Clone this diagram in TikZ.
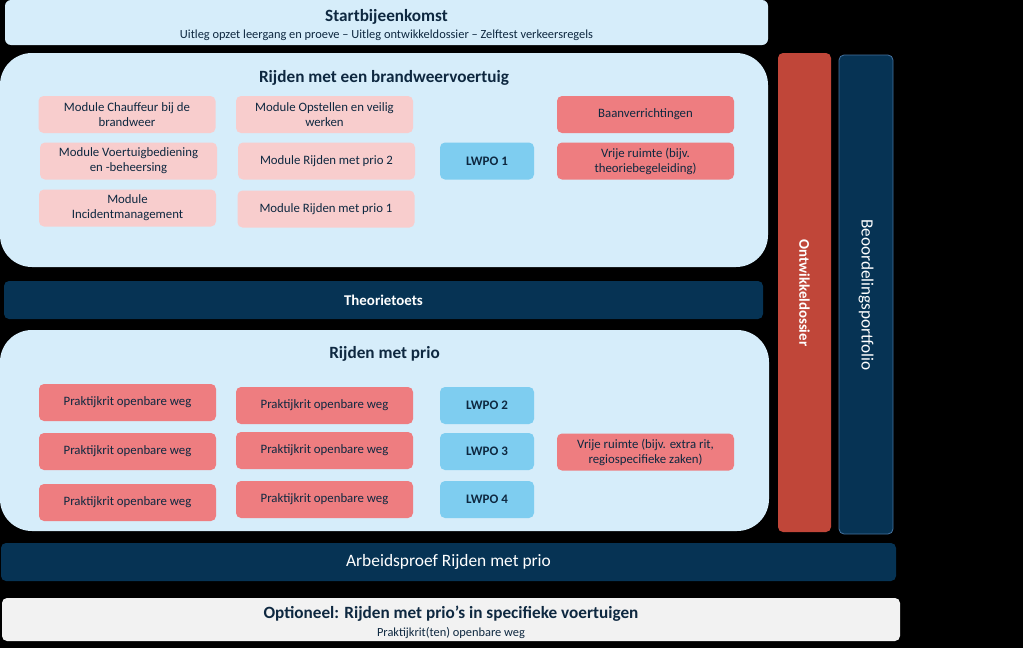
\documentclass[tikz,border=0pt]{standalone}
\usepackage{fontspec}
\setmainfont{Carlito}
\definecolor{lichtblauw}{RGB}{214,237,250}
\definecolor{roze}{RGB}{248,205,205}
\definecolor{rood}{RGB}{238,125,128}
\definecolor{lwpoblauw}{RGB}{126,205,240}
\definecolor{navy}{RGB}{6,51,84}
\definecolor{steen}{RGB}{192,70,57}
\definecolor{tekst}{RGB}{14,40,64}
\definecolor{grijs}{RGB}{242,242,242}
\tikzset{
  blok/.style={rounded corners=5pt, minimum width=177pt, minimum height=37pt,
    align=center, text=tekst, font=\fontsize{12.8}{15}\selectfont, inner sep=2pt},
  module/.style={blok, fill=roze},
  rit/.style={blok, fill=rood},
  lwpo/.style={blok, fill=lwpoblauw, minimum width=94pt, font=\fontsize{13}{15}\selectfont\bfseries},
  fase/.style={rounded corners=32pt, fill=lichtblauw},
  balk/.style={rounded corners=5pt, fill=navy, text=white, inner sep=0pt},
  kop/.style={text=tekst, font=\fontsize{17.2}{20}\selectfont\bfseries, inner sep=0pt}
}
\begin{document}
\begin{tikzpicture}[x=1pt,y=-1pt]
\fill[black] (0,0) rectangle (1023,648);
\useasboundingbox (0,0) rectangle (1023,648);
% startbijeenkomst
\node[fill=lichtblauw, rounded corners=6pt, minimum width=763pt, minimum height=45pt, inner sep=0pt] (start) at (386.5,22.5) {};
\node[kop] (startkop) at (386.5,17) {Startbijeenkomst};
\node[text=tekst, font=\fontsize{12.4}{14}\selectfont, inner sep=0pt] (startsub) at (386.5,35) {Uitleg opzet leergang en proeve -- Uitleg ontwikkeldossier -- Zelftest verkeersregels};
% rijden met een brandweervoertuig
\node[fase, minimum width=768pt, minimum height=214pt, inner sep=0pt] (fase1) at (384,160) {};
\node[kop] (fase1kop) at (384,78) {Rijden met een brandweervoertuig};
\node[module] (chauf) at (127,114.5) {Module Chauffeur bij de\\brandweer};
\node[module] (opst) at (324.5,114.5) {Module Opstellen en veilig\\werken};
\node[module] (voert) at (128.5,161) {Module Voertuigbediening\\en -beheersing};
\node[module] (prio2) at (326.5,161) {Module Rijden met prio 2};
\node[module] (incid) at (127.5,208) {Module\\Incidentmanagement};
\node[module] (prio1) at (326,209) {Module Rijden met prio 1};
\node[lwpo] (lwpo1) at (487,161) {LWPO 1};
\node[rit] (baan) at (645.5,114.5) {Baanverrichtingen};
\node[rit] (vrij1) at (645.5,161) {Vrije ruimte (bijv.\\theoriebegeleiding)};
% theorietoets
\node[balk, minimum width=759pt, minimum height=38pt, font=\fontsize{14.9}{17}\selectfont\bfseries] (theorie) at (383.5,300) {Theorietoets};
% rijden met prio
\node[fase, minimum width=769pt, minimum height=201pt, inner sep=0pt] (fase2) at (384.5,430.5) {};
\node[kop] (fase2kop) at (384.5,354) {Rijden met prio};
\node[rit] (rit1) at (127.5,402.5) {Praktijkrit openbare weg};
\node[rit] (rit2) at (127.5,451.5) {Praktijkrit openbare weg};
\node[rit] (rit3) at (127.5,502.5) {Praktijkrit openbare weg};
\node[rit] (rit4) at (324.5,405.5) {Praktijkrit openbare weg};
\node[rit] (rit5) at (324.5,450.5) {Praktijkrit openbare weg};
\node[rit] (rit6) at (324.5,499.5) {Praktijkrit openbare weg};
\node[lwpo] (lwpo2) at (487,405.5) {LWPO 2};
\node[lwpo] (lwpo3) at (487,451.5) {LWPO 3};
\node[lwpo] (lwpo4) at (487,499.5) {LWPO 4};
\node[rit] (vrij2) at (645.5,452) {Vrije ruimte (bijv. extra rit,\\regiospecifieke zaken)};
% zijbalken
\node[fill=steen, rounded corners=5pt, minimum width=53pt, minimum height=479pt, inner sep=0pt] (ontw) at (804.5,292.5) {};
\node[rotate=-90, text=white, font=\fontsize{14.8}{17}\selectfont\bfseries, inner sep=0pt] (ontwtekst) at (804.5,293) {Ontwikkeldossier};
\node[fill=navy, draw={rgb,255:red,70;green,115;blue,160}, line width=0.8pt, rounded corners=5pt, minimum width=54pt, minimum height=479pt, inner sep=0pt] (beoord) at (866,294.5) {};
\node[rotate=-90, text=white, font=\fontsize{17.2}{20}\selectfont, inner sep=0pt] (beoordtekst) at (866,295) {Beoordelingsportfolio};
% arbeidsproef
\node[balk, minimum width=895pt, minimum height=38pt, font=\fontsize{17.4}{20}\selectfont] (proef) at (448.5,562) {Arbeidsproef Rijden met prio};
% optioneel
\node[fill=grijs, rounded corners=5pt, minimum width=898pt, minimum height=43pt, inner sep=0pt] (optie) at (451,619.5) {};
\node[kop] (optiekop) at (451,614) {Optioneel: Rijden met prio’s in specifieke voertuigen};
\node[text=tekst, font=\fontsize{12.4}{14}\selectfont, inner sep=0pt] (optiesub) at (451,633) {Praktijkrit(ten) openbare weg};
\end{tikzpicture}
\end{document}
